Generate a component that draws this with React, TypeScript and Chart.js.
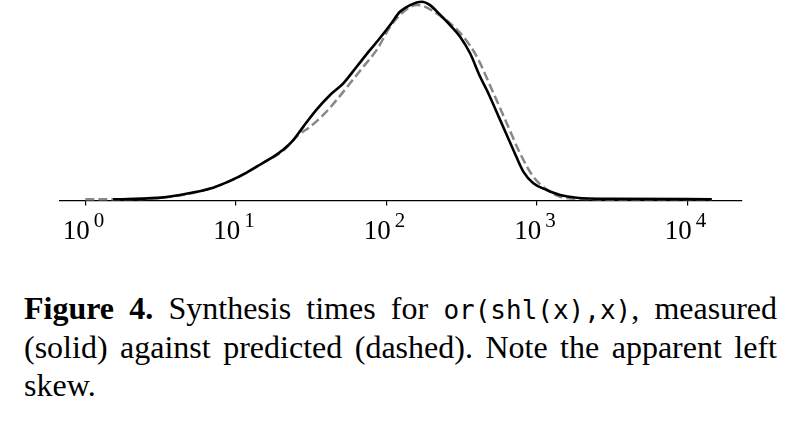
import React, { useEffect, useRef } from "react";
import { Chart, registerables } from "chart.js";

Chart.register(...registerables);

// Measured (solid) density over synthesis time (log axis)
const measuredTimes = [1.53, 1.98, 3.3, 4.26, 5.5, 7.08, 9.14, 11.8, 15.2, 17.8, 20.7, 24.1, 28.1, 34.5, 42.3, 51.8, 63.5, 78.0, 88.5, 106, 123, 144, 172, 195, 228, 265, 309, 360, 420, 465, 570, 698, 813, 948, 1164, 1426, 1841, 3062, 14521];
const measuredDensity = [0.0, 0.0015, 0.01, 0.022, 0.038, 0.059, 0.093, 0.135, 0.185, 0.216, 0.252, 0.3, 0.368, 0.455, 0.528, 0.587, 0.671, 0.756, 0.806, 0.882, 0.949, 0.983, 1.0, 0.983, 0.933, 0.882, 0.823, 0.739, 0.62, 0.553, 0.402, 0.25, 0.14, 0.081, 0.047, 0.022, 0.008, 0.0025, 0.0005];

// Predicted (dashed) density
const predictedTimes = [1.0, 1.98, 3.28, 5.5, 9.14, 15.2, 20.7, 26.0, 31.1, 38.1, 46.8, 57.4, 70.3, 86.3, 106, 130, 159, 176, 216, 265, 325, 399, 504, 631, 773, 948, 1132, 1426, 1936, 3573, 14521];
const predictedDensity = [0.0, 0.001, 0.009, 0.037, 0.092, 0.184, 0.247, 0.325, 0.367, 0.427, 0.503, 0.587, 0.671, 0.756, 0.873, 0.949, 0.983, 0.978, 0.941, 0.891, 0.823, 0.722, 0.553, 0.385, 0.233, 0.114, 0.056, 0.013, 0.0025, 0.0005, 0.0];

const tickValues = [1, 10, 100, 1000, 10000];
const tickBase = ["10", "10", "10", "10", "10"];
const tickExponents = ["0", "1", "2", "3", "4"];

const labelPlugin = {
  id: "decadeLabels",
  afterDraw(chart: any) {
    const ctx = chart.ctx;
    const scale = chart.scales.x;
    ctx.save();
    ctx.fillStyle = "#000";
    ctx.textBaseline = "alphabetic";
    ctx.textAlign = "left";
    tickValues.forEach((v, i) => {
      const x = scale.getPixelForValue(v);
      ctx.font = '27px "Liberation Serif"';
      const w = ctx.measureText(tickBase[i]).width;
      const left = x - 22.6;
      ctx.fillText(tickBase[i], left, 239.3);
      ctx.font = '21px "Liberation Serif"';
      ctx.fillText(tickExponents[i], left + w + 4, 226.7);
    });
    ctx.restore();
  },
};

export default function App() {
  const ref = useRef<HTMLCanvasElement | null>(null);
  useEffect(() => {
    if (!ref.current) return;
    const chart = new Chart(ref.current, {
      type: "line",
      data: {
        datasets: [
          {
            label: "measured",
            data: measuredTimes.map((t, i) => ({ x: t, y: measuredDensity[i] })),
            borderColor: "#000",
            borderWidth: 2.6,
            pointRadius: 0,
            cubicInterpolationMode: "monotone",
            fill: false,
          },
          {
            label: "predicted",
            data: predictedTimes.map((t, i) => ({ x: t, y: predictedDensity[i] })),
            borderColor: "#888888",
            borderWidth: 2.5,
            borderDash: [9, 4],
            pointRadius: 0,
            cubicInterpolationMode: "monotone",
            fill: false,
          },
        ],
      },
      options: {
        responsive: false,
        animation: false,
        devicePixelRatio: 1,
        clip: false as any,
        layout: { padding: { left: 60, right: 60.3, top: 0, bottom: 0 } },
        plugins: { legend: { display: false }, tooltip: { enabled: false } },
        scales: {
          x: {
            type: "logarithmic",
            min: 0.679,
            max: 22961,
            afterBuildTicks: (s: any) => {
              s.ticks = tickValues.map((v) => ({ value: v }));
            },
            afterFit: (s: any) => {
              s.height = 59.5;
            },
            ticks: { display: false },
            grid: { drawOnChartArea: false, drawTicks: true, tickLength: 5, color: "#000", lineWidth: 1.2 },
            border: { display: true, color: "#000", width: 1.3 },
          },
          y: {
            display: false,
            min: -0.006,
            max: 1.0086,
          },
        },
      },
      plugins: [labelPlugin],
    });
    return () => chart.destroy();
  }, []);

  const mono: React.CSSProperties = { fontFamily: '"DejaVu Sans Mono", monospace', fontSize: 26 };
  const justified: React.CSSProperties = { textAlign: "justify", textAlignLast: "justify" as any };

  return (
    <div style={{ position: "absolute", left: 0, top: 0, width: 802, height: 429, background: "#fff" }}>
      <canvas ref={ref} width={802} height={260} style={{ position: "absolute", left: 0, top: 0, width: 802, height: 260 }} />
      <div
        style={{
          position: "absolute",
          left: 24,
          top: 289.7,
          width: 753,
          fontFamily: '"Liberation Serif", serif',
          fontSize: 32,
          lineHeight: "37.5px",
          color: "#000",
        }}
      >
        <div style={justified}>
          <b>Figure 4.</b> Synthesis times for <span style={mono}>or(shl(x),x)</span>, measured
        </div>
        <div style={justified}>(solid) against predicted (dashed). Note the apparent left</div>
        <div>skew.</div>
      </div>
    </div>
  );
}
